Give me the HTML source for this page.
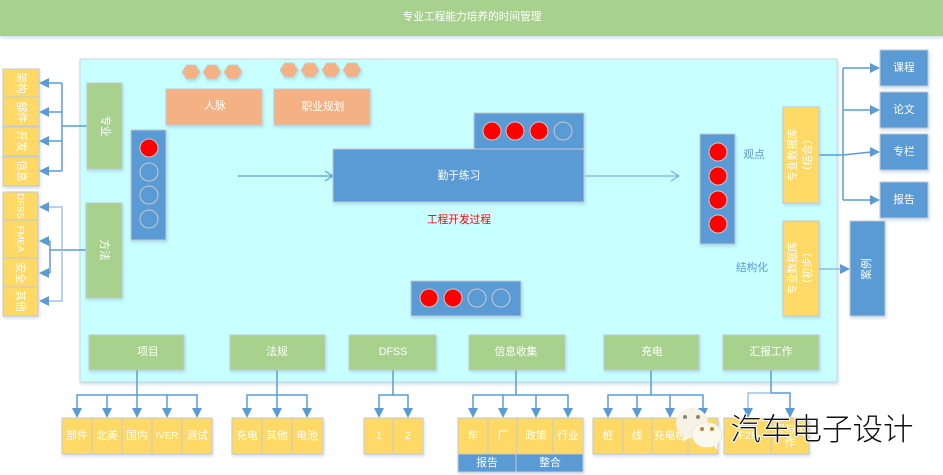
<!DOCTYPE html>
<html lang="zh"><head><meta charset="utf-8"><style>
html,body{margin:0;padding:0;background:#fff;width:943px;height:475px;overflow:hidden}
svg{display:block}
text{font-family:"Liberation Sans","Noto Sans CJK SC",sans-serif;font-size:10.7px;fill:#fff;text-anchor:middle;dominant-baseline:central}
.b rect,rect.b{stroke:#c3c9d0;stroke-width:1}
.s{filter:drop-shadow(1px 2px 1.5px rgba(120,160,200,.35))}
.g{fill:#a9d18e}.y{fill:#ffd966}.u{fill:#5b9bd5}.o{fill:#f4b183}
.l{fill:none;stroke:#5b9bd5;stroke-width:1.5}
.a{fill:#5b9bd5}
.r{fill:#f00;stroke:#c9c9c9;stroke-width:1}
.e{fill:none;stroke:#c9c9c9;stroke-width:1}
</style></head><body>
<svg width="943" height="475" viewBox="0 0 943 475" xmlns="http://www.w3.org/2000/svg">
<rect x="0" y="0" width="943" height="36" fill="#a9d18e" class="s"/>
<text x="472" y="17">专业工程能力培养的时间管理</text>

<rect x="80" y="59" width="757" height="323" fill="#c8ffff" stroke="#cfd4d8" class="s"/>

<!-- connectors -->
<path class="l" d="M87 126H62M62 83V171M62 83H48M62 112H48M62 141H48M62 171H48"/>
<path class="a" d="M39 83l10-5v10zM39 112l10-5v10zM39 141l10-5v10zM39 171l10-5v10z"/>
<path class="l" d="M86 250H50M50 241V273M50 241H48M50 273H48"/>
<path class="l" style="stroke:#9dc3e6" d="M48 207H62V301H48"/>
<path class="a" d="M39 207l10-5v10zM39 241l10-5v10zM39 273l10-5v10zM39 301l10-5v10z"/>
<path class="l" style="stroke-width:1.2" d="M238 176H333M325 171l8 5-8 5"/>
<path class="l" style="stroke:#7db0de;stroke-width:1.2" d="M585 176H679M671 171l8 5-8 5"/>
<path class="l" d="M819 155H843L871 152M843 68V200M843 68H871M843 110H871M843 200H871"/>
<path class="a" d="M880 68l-10-5v10zM880 110l-10-5v10zM880 152l-10-5v10zM880 200l-10-5v10zM850 269l-10-5v10z"/>
<path class="l" d="M819 269H841" style="stroke:#8dbbe3"/>

<path class="l" d="M137 370V395M77 409V395H197V409M107 395V409M137 395V409M167 395V409"/>
<path class="a" d="M77 418l-5-10h10zM107 418l-5-10h10zM137 418l-5-10h10zM167 418l-5-10h10zM197 418l-5-10h10z"/>
<path class="l" d="M277 370V409M247 409V395H307V409"/>
<path class="a" d="M247 418l-5-10h10zM277 418l-5-10h10zM307 418l-5-10h10z"/>
<path class="l" d="M393 370V395M379 409V395H408V409"/>
<path class="a" d="M379 418l-5-10h10zM408 418l-5-10h10z"/>
<path class="l" d="M516 370V395M473 409V395H568V409M503 395V409M536 395V409"/>
<path class="a" d="M473 418l-5-10h10zM503 418l-5-10h10zM536 418l-5-10h10zM568 418l-5-10h10z"/>
<path class="l" d="M651 370V395M608 409V395H703V409M637 395V409M670 395V409"/>
<path class="a" d="M608 418l-5-10h10zM637 418l-5-10h10zM670 418l-5-10h10zM703 418l-5-10h10z"/>
<path class="l" d="M771 370V393H790V409"/>
<path class="l" style="stroke:#9dc3e6" d="M771 393H748V409"/>
<path class="a" d="M748 418l-5-10h10zM790 418l-5-10h10z"/>

<!-- boxes -->
<g class="b s">
<rect class="y" x="3" y="69" width="36" height="28"/><rect class="y" x="3" y="97" width="36" height="29"/><rect class="y" x="3" y="127" width="36" height="29"/><rect class="y" x="3" y="157" width="36" height="29"/>
<rect class="y" x="3" y="192" width="35" height="28"/><rect class="y" x="3" y="220" width="35" height="38"/><rect class="y" x="3" y="258" width="35" height="29"/><rect class="y" x="3" y="287" width="35" height="29"/>
<rect class="g" x="87" y="83" width="35" height="86"/><rect class="g" x="86" y="203" width="36" height="95"/>
<rect class="u" x="131" y="130" width="35" height="110"/>
<rect class="o" x="166" y="89" width="96" height="36"/><rect class="o" x="274" y="89" width="96" height="36"/>
<rect class="u" x="474" y="113" width="110" height="36"/><rect class="u" x="333" y="149" width="251" height="53"/>
<rect class="u" x="411" y="281" width="110" height="35"/><rect class="u" x="700" y="134" width="35" height="110"/>
<rect class="y" x="783" y="107" width="36" height="96"/><rect class="y" x="783" y="221" width="36" height="95"/>
<rect class="u" x="880" y="50" width="48" height="36"/><rect class="u" x="880" y="92" width="48" height="36"/><rect class="u" x="880" y="134" width="48" height="36"/><rect class="u" x="880" y="182" width="48" height="36"/>
<rect class="u" x="850" y="221" width="35" height="95"/>
<rect class="g" x="89" y="335" width="95" height="35"/><rect class="g" x="230" y="335" width="95" height="35"/><rect class="g" x="349" y="335" width="87" height="35"/><rect class="g" x="469" y="335" width="96" height="35"/><rect class="g" x="604" y="335" width="95" height="35"/><rect class="g" x="723" y="335" width="96" height="35"/>
<rect class="y" x="62" y="418" width="30" height="36"/><rect class="y" x="92" y="418" width="30" height="36"/><rect class="y" x="122" y="418" width="30" height="36"/><rect class="y" x="152" y="418" width="30" height="36"/><rect class="y" x="182" y="418" width="30" height="36"/>
<rect class="y" x="232" y="418" width="30" height="36"/><rect class="y" x="262" y="418" width="30" height="36"/><rect class="y" x="292" y="418" width="31" height="36"/>
<rect class="y" x="364" y="418" width="29" height="36"/><rect class="y" x="393" y="418" width="30" height="36"/>
<rect class="y" x="458" y="418" width="30" height="36"/><rect class="y" x="488" y="418" width="29" height="36"/><rect class="y" x="517" y="418" width="36" height="36"/><rect class="y" x="553" y="418" width="30" height="36"/>
<rect class="u" x="458" y="454" width="58" height="18"/><rect class="u" x="516" y="454" width="67" height="18"/>
<rect class="y" x="593" y="418" width="30" height="36"/><rect class="y" x="623" y="418" width="29" height="36"/><rect class="y" x="652" y="418" width="36" height="36"/><rect class="y" x="688" y="418" width="30" height="36"/>
<rect class="y" x="724" y="418" width="47" height="36"/><rect class="y" x="771" y="418" width="38" height="36"/>
</g>

<!-- hexagons -->
<g fill="#f4b183" stroke="#c3d0d0" stroke-width=".8" class="s">
<path d="M182 72l4.5-7h9l4.5 7-4.5 7h-9z"/><path d="M203 72l4.5-7h9l4.5 7-4.5 7h-9z"/><path d="M224 72l4.5-7h9l4.5 7-4.5 7h-9z"/>
<path d="M280 70l4.5-7h9l4.5 7-4.5 7h-9z"/><path d="M301 70l4.5-7h9l4.5 7-4.5 7h-9z"/><path d="M322 70l4.5-7h9l4.5 7-4.5 7h-9z"/><path d="M343 70l4.5-7h9l4.5 7-4.5 7h-9z"/>
</g>

<!-- circles -->
<circle class="r" cx="149" cy="148" r="9"/><circle class="e" cx="149" cy="172" r="9"/><circle class="e" cx="149" cy="195" r="9"/><circle class="e" cx="149" cy="219" r="9"/>
<circle class="r" cx="492" cy="131" r="9"/><circle class="r" cx="515" cy="131" r="9"/><circle class="r" cx="539" cy="131" r="9"/><circle class="e" cx="563" cy="131" r="9"/>
<circle class="r" cx="429" cy="298" r="9"/><circle class="r" cx="453" cy="298" r="9"/><circle class="e" cx="477" cy="298" r="9"/><circle class="e" cx="501" cy="298" r="9"/>
<circle class="r" cx="718" cy="152" r="9"/><circle class="r" cx="718" cy="176" r="9"/><circle class="r" cx="718" cy="200" r="9"/><circle class="r" cx="718" cy="224" r="9"/>

<!-- rotated labels -->
<text transform="translate(21,83) rotate(90)">架构</text>
<text transform="translate(21,112) rotate(90)">部件</text>
<text transform="translate(21,141) rotate(90)">开发</text>
<text transform="translate(21,171) rotate(90)">信息</text>
<text transform="translate(20,206) rotate(90)" style="font-size:9.5px">DFSS</text>
<text transform="translate(20,239) rotate(90)" style="font-size:9.5px">FMEA</text>
<text transform="translate(20,273) rotate(90)">安全</text>
<text transform="translate(20,301) rotate(90)">其他</text>
<text transform="translate(105,126) rotate(90)">专业</text>
<text transform="translate(104,250) rotate(90)">方法</text>
<text transform="translate(793,155) rotate(-90)">专业数据库</text>
<text transform="translate(808,155) rotate(-90)">（结合）</text>
<text transform="translate(793,268) rotate(-90)">专业数据库</text>
<text transform="translate(808,268) rotate(-90)">（初步）</text>
<text transform="translate(867,269) rotate(-90)">案例</text>

<!-- labels -->
<text x="215" y="106">人脉</text><text x="323" y="107">职业规划</text>
<text x="459" y="176">勤于练习</text>
<text x="459" y="220" style="fill:#f00">工程开发过程</text>
<text x="754" y="155" style="fill:#5b9bd5">观点</text>
<text x="752" y="268" style="fill:#5b9bd5">结构化</text>
<text x="904" y="68">课程</text><text x="904" y="110">论文</text><text x="904" y="152">专栏</text><text x="904" y="200">报告</text>
<text x="148" y="352">项目</text><text x="277" y="352">法规</text><text x="393" y="352">DFSS</text><text x="516" y="352">信息收集</text><text x="652" y="352">充电</text><text x="771" y="352">汇报工作</text>
<text x="77" y="436">部件</text><text x="107" y="436">北美</text><text x="137" y="436">国内</text><text x="167" y="436" style="font-size:9.5px">IVER</text><text x="197" y="436">测试</text>
<text x="247" y="436">充电</text><text x="277" y="436">其他</text><text x="307" y="436">电池</text>
<text x="379" y="436">1</text><text x="408" y="436">2</text>
<text x="473" y="436">车</text><text x="503" y="436">厂</text><text x="536" y="436">政策</text><text x="568" y="436">行业</text>
<text x="487" y="463">报告</text><text x="550" y="463">整合</text>
<text x="608" y="436">桩</text><text x="637" y="436">线</text><text x="670" y="436">充电桩</text><text x="703" y="436">其他</text>
<text x="748" y="436">F2F</text><text x="790" y="430">写与工</text><text x="790" y="443">作</text>

<!-- watermark -->
<g>
<ellipse cx="692" cy="423" rx="16" ry="15" fill="#f6f2e6"/>
<path d="M684 436l-2 6 8-4z" fill="#f6f2e6"/>
<circle cx="685" cy="417" r="2" fill="#8a8578"/><circle cx="698" cy="417" r="2" fill="#8a8578"/>
<ellipse cx="707" cy="435" rx="15" ry="12.5" fill="#fbf8ee" stroke="#e5dfcc" stroke-width=".6"/>
<path d="M713 445l5 5-1-7z" fill="#fbf8ee"/>
<circle cx="702" cy="429" r="2" fill="#b58a2e"/><circle cx="712" cy="429" r="2" fill="#b58a2e"/>
</g>
<text x="822" y="427" style="font-size:30.5px;font-weight:300;fill:#111;stroke:#fff;stroke-width:2px;paint-order:stroke;font-family:'Noto Sans CJK SC','Liberation Sans',sans-serif">汽车电子设计</text>
</svg>
</body></html>
